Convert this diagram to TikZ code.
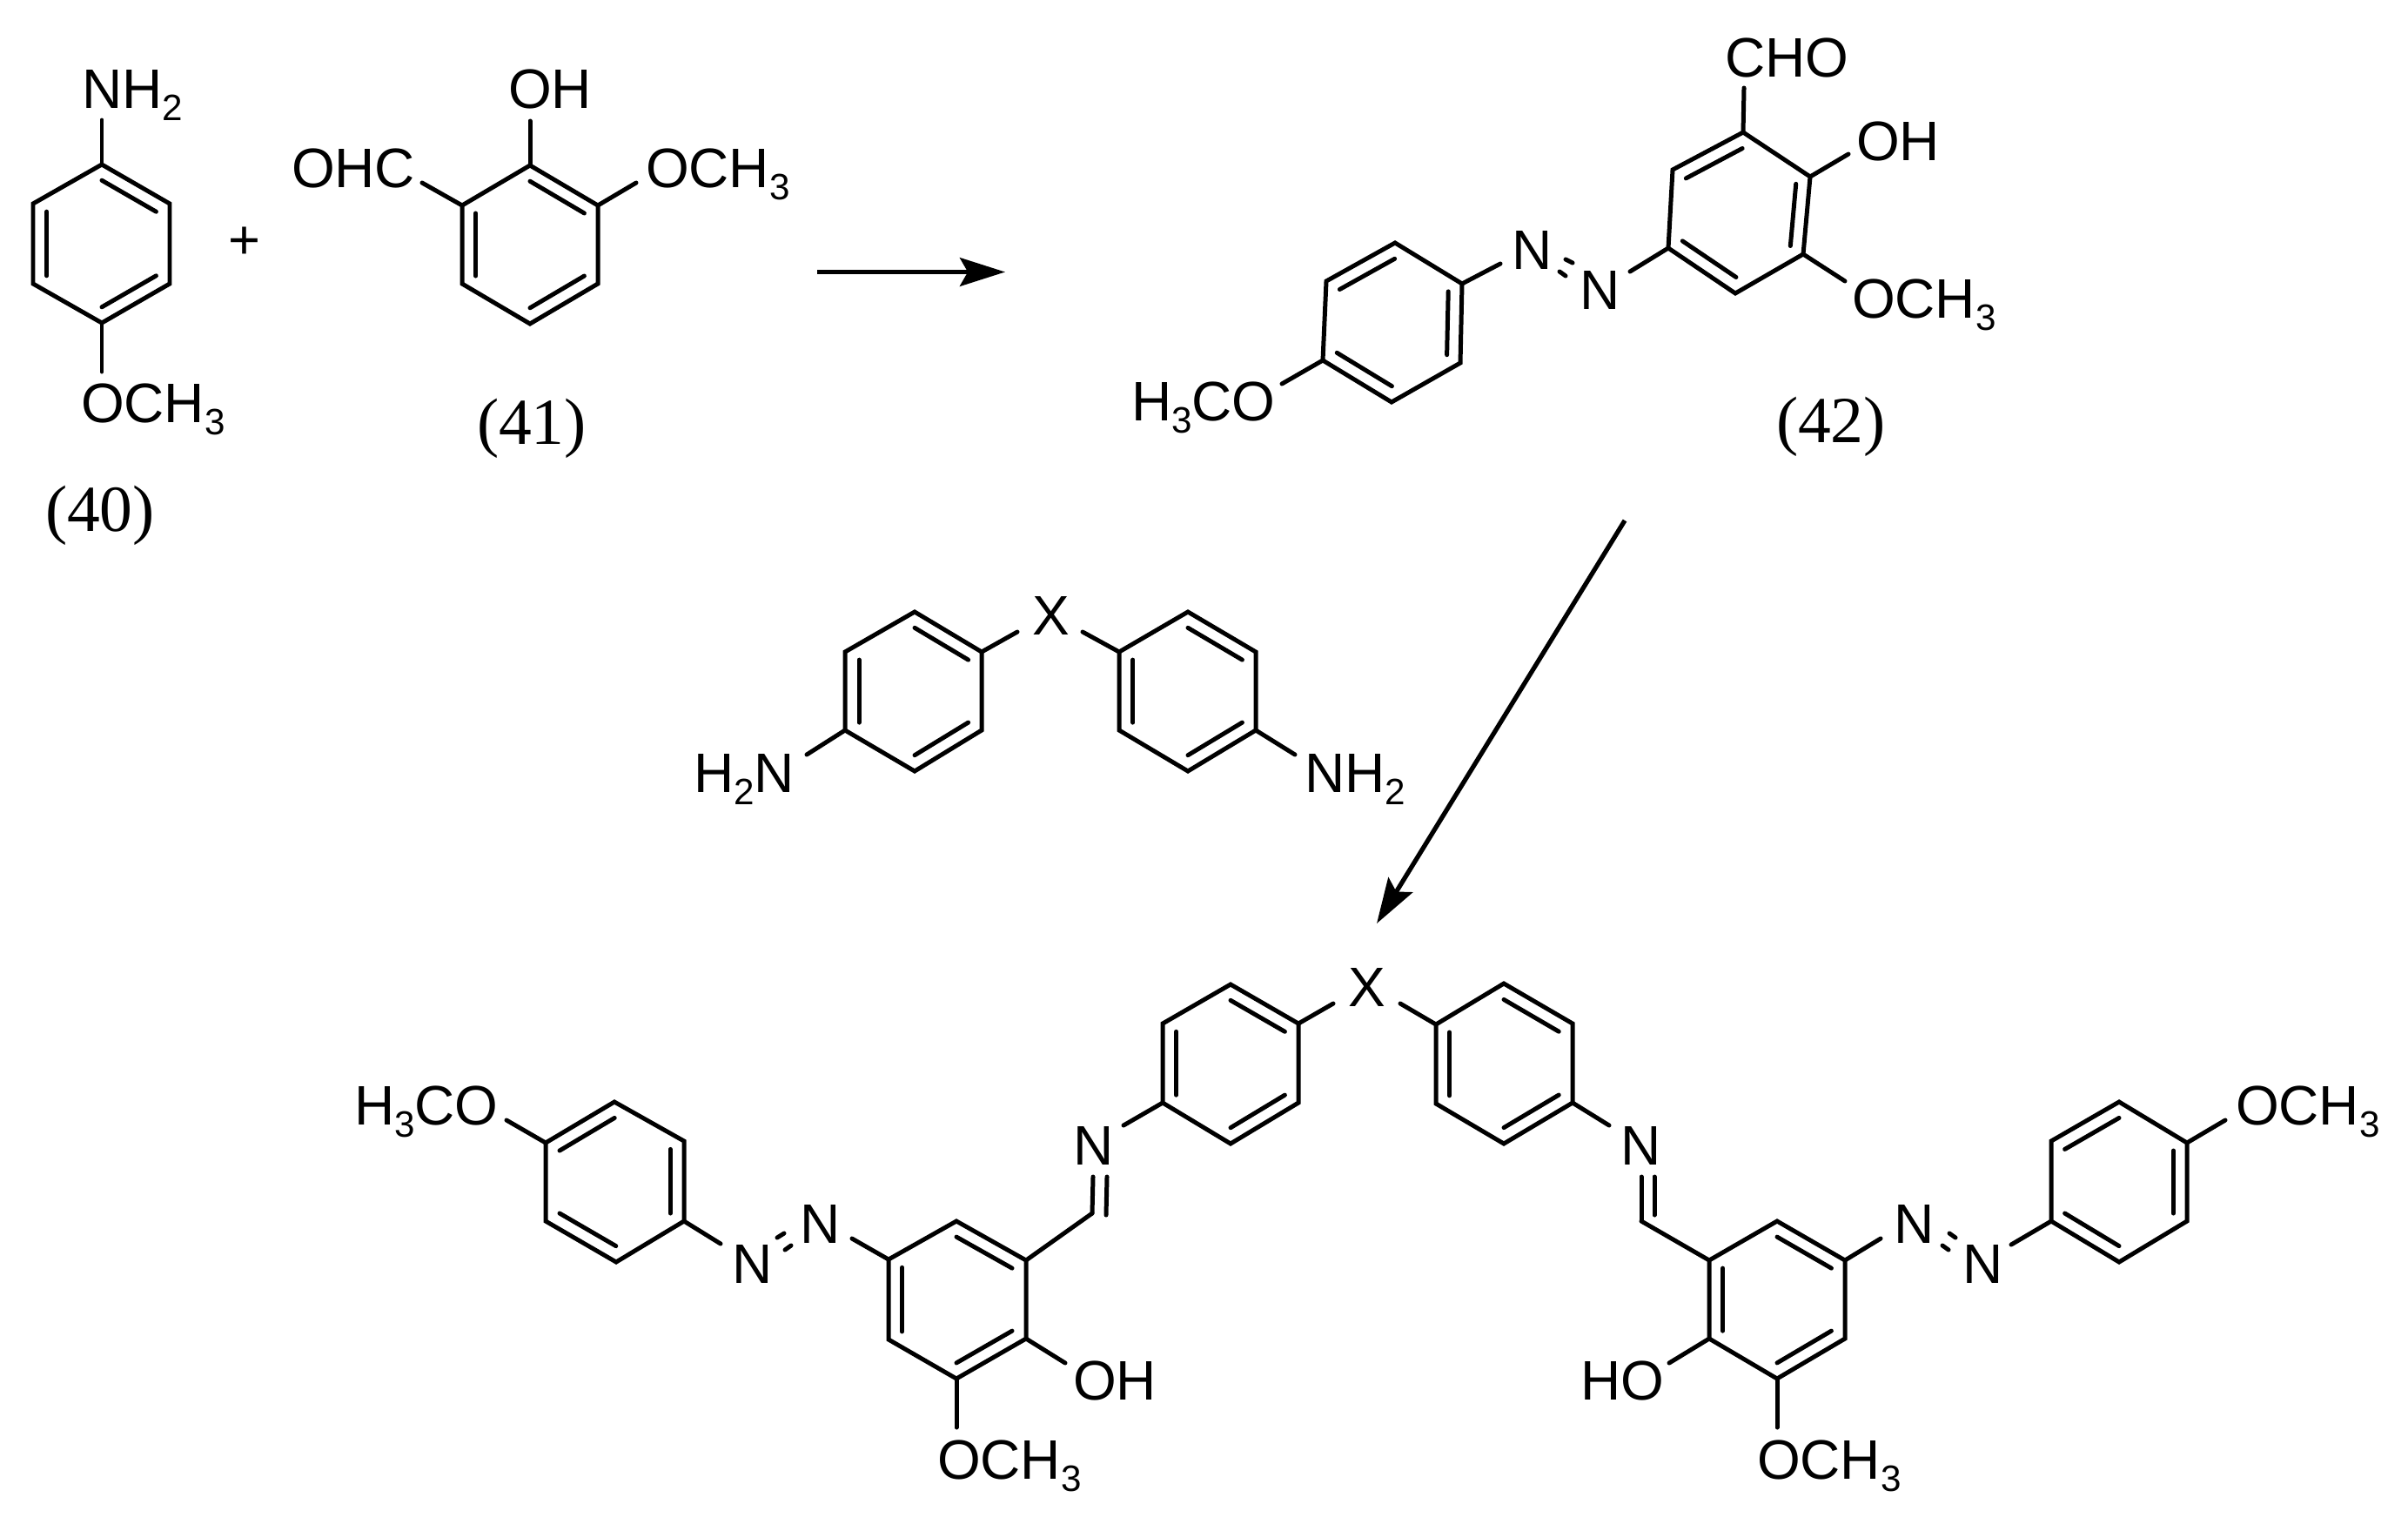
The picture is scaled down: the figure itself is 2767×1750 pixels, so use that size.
\documentclass[tikz,border=0pt]{standalone}
\usepackage{fontspec}
\setmainfont{Liberation Sans}
\newfontfamily\serifnum{Liberation Serif}
\usetikzlibrary{arrows.meta,calc}
\tikzset{
  bond/.style={line width=1.42pt,line cap=round,line join=miter,black},
  atom/.style={inner sep=0pt,outer sep=0pt,anchor=base west,font=\fontsize{18.2pt}{20pt}\selectfont,text=black},
  cmpd/.style={inner sep=0pt,outer sep=0pt,anchor=base west,font=\serifnum\fontsize{21.5pt}{24pt}\selectfont,text=black},
  rxn/.style={line width=1.5pt,black,-{Stealth[length=14.8pt,width=9.3pt,inset=2.6pt]}},
}
\newcommand{\sbs}[1]{\raisebox{-1.45mm}{\fontsize{12pt}{12pt}\selectfont #1}}
\newcommand{\hexring}[7]{%
  \coordinate (#1a) at (#2); \coordinate (#1b) at (#3); \coordinate (#1c) at (#4);
  \coordinate (#1d) at (#5); \coordinate (#1e) at (#6); \coordinate (#1f) at (#7);
  \coordinate (#1o) at ($(#1a)!0.5!(#1d)$);
  \draw[bond,line cap=butt] (#1a)--(#1b)--(#1c)--(#1d)--(#1e)--(#1f)--cycle;}
\newcommand{\innerb}[3]{\draw[bond] ($(#1#2)!0.2!(#1o)$)--($(#1#3)!0.2!(#1o)$);}
\newcommand{\bondto}[3]{\coordinate (#2) at (#3); \draw[bond] (#1)--(#2);}
\newcommand{\azodash}[3]{\coordinate (#1-s) at (#2); \coordinate (#1-t) at (#3); \draw[bond] (#1-s)--(#1-t);}
\begin{document}
\begin{tikzpicture}[x=0.1mm,y=-0.1mm]
\useasboundingbox (0,0) rectangle (2767,1750);
\fill[white] (0,0) rectangle (2767,1750);
% --- (40)
\hexring{p}{117,189}{195,234}{195,326}{117,371}{38,326}{38,234}
\innerb{p}{a}{b}\innerb{p}{c}{d}\innerb{p}{e}{f}
\bondto{pa}{p-n}{117,138}
\bondto{pd}{p-m}{117,427}
\node[atom] (pnh) at (94,124) {NH\sbs{2}};
\node[atom] (pome) at (93,485) {OCH\sbs{3}};
\node[cmpd] (l40) at (52,610) {(40)};
\node[inner sep=0pt,font=\fontsize{18pt}{20pt}\selectfont] (plus) at (281,279) {+};
% --- (41)
\hexring{q}{609,190}{687,236}{687,326}{609,372}{531,326}{531,236}
\innerb{q}{a}{b}\innerb{q}{c}{d}\innerb{q}{e}{f}
\bondto{qa}{q-h}{609,139}
\bondto{qf}{q-c}{485,210}
\bondto{qb}{q-m}{731,210}
\node[atom] (qoh) at (584,124) {OH};
\node[atom] (qohc) at (335,215) {OHC};
\node[atom] (qome) at (742,215) {OCH\sbs{3}};
\node[cmpd] (l41) at (548,510) {(41)};
% --- arrow 1
\coordinate (a1s) at (939,312.5); \coordinate (a1e) at (1155,312.5);
\draw[rxn] (a1s)--(a1e);
% --- (42)
\hexring{r}{2003,152}{2080,203}{2072,292}{1994,337}{1917,285}{1922,195}
\innerb{r}{f}{a}\innerb{r}{b}{c}\innerb{r}{d}{e}
\bondto{ra}{r-c}{2004,101}
\bondto{rb}{r-h}{2124,177}
\bondto{rc}{r-m}{2120,323}
\bondto{re}{r-z}{1873,312}
\node[atom] (rcho) at (1982,88) {CHO};
\node[atom] (roh) at (2133,184) {OH};
\node[atom] (rome) at (2128,365) {OCH\sbs{3}};
\hexring{s}{1603,279}{1680,326}{1678,417}{1599,462}{1520,414}{1524,323}
\innerb{s}{f}{a}\innerb{s}{b}{c}\innerb{s}{d}{e}
\bondto{sb}{s-z}{1724,303}
\bondto{se}{s-m}{1473,441}
\node[atom] (smeo) at (1300,483) {H\sbs{3}CO};
\node[atom] (n1) at (1737,309) {N};
\node[atom] (n2) at (1815,355) {N};
\azodash{d1}{1799,298}{1807,302}
\azodash{d2}{1792,312}{1799,317}
\node[cmpd] (l42) at (2041,508) {(42)};
% --- long arrow
\coordinate (a2s) at (1867,598); \coordinate (a2e) at (1582,1061);
\draw[rxn] (a2s)--(a2e);
% --- diamine
\hexring{u}{1051,703}{1128,749}{1128,839}{1051,886}{971,839}{971,749}
\innerb{u}{a}{b}\innerb{u}{f}{e}\innerb{u}{c}{d}
\hexring{v}{1365,703}{1443,749}{1443,839}{1365,886}{1286,839}{1286,749}
\innerb{v}{a}{b}\innerb{v}{f}{e}\innerb{v}{c}{d}
\bondto{ub}{u-x}{1169,726}
\bondto{vf}{v-x}{1244,726}
\bondto{ue}{u-n}{927,867}
\bondto{vc}{v-n}{1488,867}
\node[atom] (xt) at (1186,729) {X};
\node[atom] (unh) at (797,910) {H\sbs{2}N};
\node[atom] (vnh) at (1499,910) {NH\sbs{2}};
% --- product, left half
\hexring{A}{706,1266}{786,1311}{786,1403}{708,1450}{627,1403}{627,1313}
\innerb{A}{f}{a}\innerb{A}{b}{c}\innerb{A}{e}{d}
\bondto{Af}{A-m}{582,1287}
\bondto{Ac}{A-z}{828,1429}
\node[atom] (Ah) at (407,1292) {H\sbs{3}CO};
\node[atom] (An1) at (841,1474) {N};
\node[atom] (An2) at (919,1428) {N};
\azodash{e1}{893,1422}{901,1417}
\azodash{e2}{902,1436}{909,1431}
\hexring{B}{1099,1403}{1179,1448}{1179,1538}{1099,1584}{1021,1539}{1021,1447}
\innerb{B}{a}{b}\innerb{B}{f}{e}\innerb{B}{c}{d}
\bondto{Bf}{B-z}{979,1423}
\bondto{Bc}{B-h}{1224,1566}
\bondto{Bd}{B-m}{1099,1640}
\node[atom] (Boh) at (1233,1608) {OH};
\node[atom] (Bome) at (1077,1699) {OCH\sbs{3}};
\coordinate (C-v) at (1255,1394);
\draw[bond] (Bb)--(C-v);
\coordinate (C-n1) at (1256,1352); \draw[bond] (C-v)--(C-n1);
\coordinate (C-w) at (1271,1396); \coordinate (C-n2) at (1272,1352); \draw[bond] (C-w)--(C-n2);
\node[atom] (Cnn) at (1233,1338) {N};
\hexring{C}{1414,1131}{1492,1176}{1492,1267}{1414,1314}{1336,1267}{1336,1176}
\innerb{C}{f}{e}\innerb{C}{a}{b}\innerb{C}{c}{d}
\bondto{Ce}{C-z}{1291,1293}
\bondto{Cb}{C-x}{1532,1153}
\node[atom] (xb) at (1549,1156) {X};
% --- product, right half
\hexring{D}{1728,1130}{1807,1176}{1807,1267}{1728,1314}{1650,1268}{1650,1177}
\innerb{D}{f}{e}\innerb{D}{a}{b}\innerb{D}{c}{d}
\bondto{Df}{D-x}{1609,1153}
\bondto{Dc}{D-z}{1849,1293}
\node[atom] (Dnn) at (1862,1338) {N};
\coordinate (E-v) at (1886,1403); \coordinate (E-n1) at (1886,1352); \draw[bond] (E-v)--(E-n1);
\coordinate (E-w) at (1901,1396); \coordinate (E-n2) at (1901,1352); \draw[bond] (E-w)--(E-n2);
\hexring{E}{2042,1403}{2120,1448}{2120,1538}{2042,1584}{1964,1538}{1964,1448}
\innerb{E}{a}{b}\innerb{E}{f}{e}\innerb{E}{c}{d}
\draw[bond] (Ef)--(E-v);
\bondto{Ee}{E-h}{1918,1566}
\bondto{Ed}{E-m}{2042,1640}
\bondto{Eb}{E-z}{2161,1423}
\node[atom] (Eho) at (1816,1608) {HO};
\node[atom] (Eome) at (2019,1699) {OCH\sbs{3}};
\node[atom] (En3) at (2176,1428) {N};
\node[atom] (En4) at (2255,1474) {N};
\azodash{f1}{2240,1417}{2247,1422}
\azodash{f2}{2232,1431}{2239,1436}
\hexring{F}{2435,1266}{2513,1313}{2513,1403}{2435,1450}{2357,1403}{2357,1311}
\innerb{F}{f}{a}\innerb{F}{b}{c}\innerb{F}{e}{d}
\bondto{Fe}{F-z}{2311,1430}
\bondto{Fb}{F-m}{2557,1287}
\node[atom] (Fome) at (2569,1292) {OCH\sbs{3}};
\end{tikzpicture}
\end{document}
